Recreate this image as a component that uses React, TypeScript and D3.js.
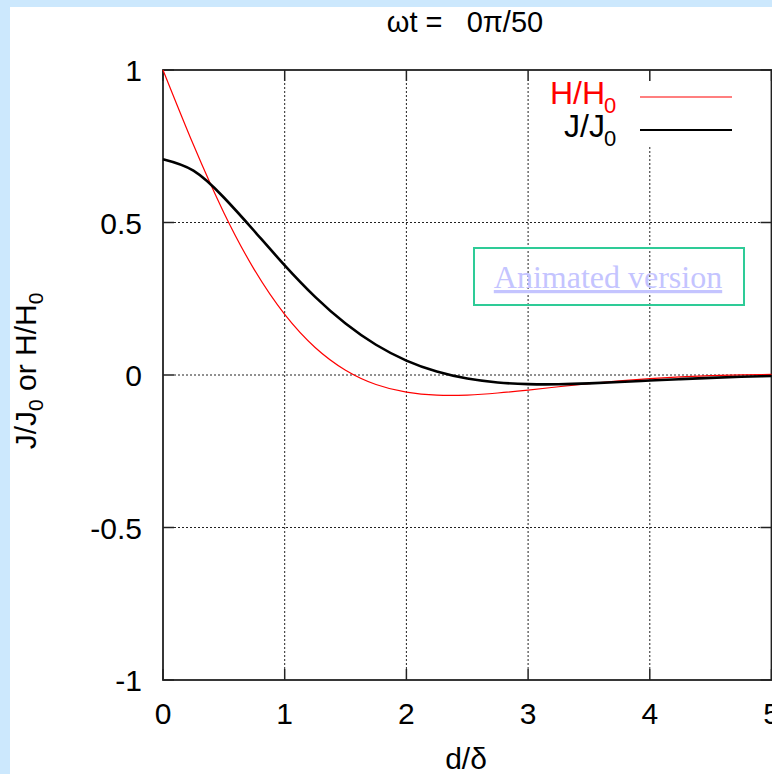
import React from "react";
import * as d3 from "d3";

// Distance into the conductor, d/δ
const xValues = [0, 0.25, 0.5, 0.75, 1, 1.25, 1.5, 1.75, 2, 2.25, 2.5, 2.75, 3, 3.25, 3.5, 3.75, 4, 4.25, 4.5, 4.75, 5];
// H/H0 (red)
const hValues = [1, 0.7546, 0.5323, 0.3456, 0.1988, 0.0903, 0.0158, -0.031, -0.0563, -0.0662, -0.0658, -0.0591, -0.0493, -0.0386, -0.0283, -0.0193, -0.012, -0.0064, -0.0023, 0.0003, 0.0019];
// J/J0 (black)
const jValues = [0.7071, 0.6698, 0.582, 0.4721, 0.3594, 0.2561, 0.1686, 0.0992, 0.0473, 0.0112, -0.0117, -0.0245, -0.0299, -0.0303, -0.0275, -0.0232, -0.0182, -0.0135, -0.0093, -0.0059, -0.0032];

const xTicks = [0, 1, 2, 3, 4, 5];
const yTicks = [-1, -0.5, 0, 0.5, 1];
const yTickLabels = ["-1", "-0.5", "0", "0.5", "1"];

const FONT = "'Liberation Sans', Arial, Helvetica, sans-serif";

export default function App() {
  const W = 772, H = 774;
  const x = d3.scaleLinear().domain([0, 5]).range([163, 771.5]);
  const y = d3.scaleLinear().domain([-1, 1]).range([680, 70]);
  const line = d3
    .line<number>()
    .x((_, i) => x(xValues[i]))
    .y((d) => y(d))
    .curve(d3.curveNatural);

  const left = x(0), right = x(5), top = y(1), bottom = y(-1);
  const tick = 11;
  const gridStyle = { stroke: "#222", strokeWidth: 1, strokeDasharray: "2,2" };

  return (
    <svg
      width={W}
      height={H}
      style={{ position: "absolute", left: 0, top: 0, display: "block" }}
    >
      <rect x={0} y={0} width={W} height={H} fill="#cce8fd" />
      <rect x={10} y={7} width={W - 10} height={H - 7} fill="#ffffff" />

      {/* grid */}
      {xTicks.slice(1, -1).map((t) => (
        <line key={"gx" + t} x1={x(t)} x2={x(t)} y1={bottom - tick} y2={top + tick} {...gridStyle} />
      ))}
      {yTicks.slice(1, -1).map((t) => (
        <line key={"gy" + t} x1={left + tick} x2={right - tick} y1={y(t)} y2={y(t)} {...gridStyle} />
      ))}
      {/* key area masks grid */}
      <rect x={536} y={79} width={240} height={68} fill="#ffffff" />

      {/* ticks */}
      {xTicks.map((t) => (
        <g key={"tx" + t}>
          <line x1={x(t)} x2={x(t)} y1={bottom} y2={bottom - tick} stroke="#222" strokeWidth={1.5} />
          <line x1={x(t)} x2={x(t)} y1={top} y2={top + tick} stroke="#222" strokeWidth={1.5} />
          <text x={x(t)} y={724} textAnchor="middle" fontFamily={FONT} fontSize={30} fill="#000">
            {t}
          </text>
        </g>
      ))}
      {yTicks.map((t, i) => (
        <g key={"ty" + t}>
          <line x1={left} x2={left + tick} y1={y(t)} y2={y(t)} stroke="#222" strokeWidth={1.5} />
          <line x1={right} x2={right - tick} y1={y(t)} y2={y(t)} stroke="#222" strokeWidth={1.5} />
          <text x={142} y={y(t) + 11} textAnchor="end" fontFamily={FONT} fontSize={30} fill="#000">
            {yTickLabels[i]}
          </text>
        </g>
      ))}

      {/* frame */}
      <rect x={left} y={top} width={right - left} height={bottom - top} fill="none" stroke="#222" strokeWidth={1.8} />

      {/* curves */}
      <path d={line(hValues) || ""} fill="none" stroke="#ff0000" strokeWidth={1.2} />
      <path d={line(jValues) || ""} fill="none" stroke="#000000" strokeWidth={2.6} />

      {/* legend */}
      <text x={605} y={104} textAnchor="end" fontFamily={FONT} fontSize={32} fill="#ff0000">
        H/H
      </text>
      <text x={604} y={113} fontFamily={FONT} fontSize={22} fill="#ff0000">0</text>
      <line x1={640} x2={732} y1={97} y2={97} stroke="#ff0000" strokeWidth={1.2} />
      <text x={605} y={137} textAnchor="end" fontFamily={FONT} fontSize={32} fill="#000">
        J/J
      </text>
      <text x={604} y={146} fontFamily={FONT} fontSize={22} fill="#000">0</text>
      <line x1={640} x2={732} y1={130} y2={130} stroke="#000" strokeWidth={2} />

      {/* title */}
      <text x={465} y={32} textAnchor="middle" fontFamily={FONT} fontSize={29} fill="#000" style={{ whiteSpace: "pre" }}>
        {"ωt =   0π/50"}
      </text>

      {/* axis labels */}
      <text x={466} y={769} textAnchor="middle" fontFamily={FONT} fontSize={30} fill="#000">
        d/δ
      </text>
      <text transform="translate(36,371) rotate(-90)" textAnchor="middle" fontFamily={FONT} fontSize={30} fill="#000">
        <tspan>J/J</tspan>
        <tspan fontSize={21} dy={7}>0</tspan>
        <tspan dy={-7}> or H/H</tspan>
        <tspan fontSize={21} dy={7}>0</tspan>
      </text>

      {/* Animated version link box */}
      <rect x={474} y={248} width={270} height={57} fill="none" stroke="#2ecb97" strokeWidth={2} />
      <text x={608} y={288} textAnchor="middle" fontFamily="'Liberation Serif', 'Times New Roman', serif" fontSize={32} fill="#c4c4ff" textDecoration="underline">
        Animated version
      </text>
    </svg>
  );
}
